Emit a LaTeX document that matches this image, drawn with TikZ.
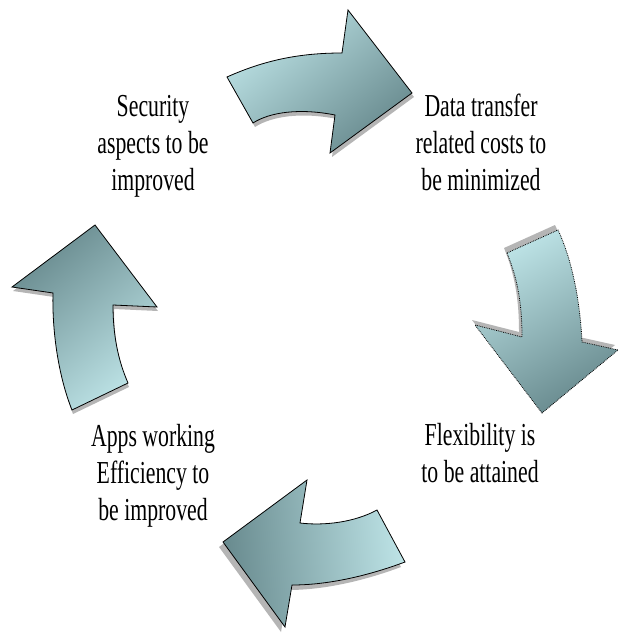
\documentclass[tikz,border=0pt]{standalone}
\usepackage{fontspec}
\usepackage{tikz}
\newfontfamily\cyclefont[FakeStretch=0.68]{Liberation Serif}
\definecolor{arrowlight}{RGB}{190,228,231}
\definecolor{arrowdark}{RGB}{104,138,142}
\definecolor{arrowshadow}{RGB}{120,120,120}
% outlines of the four bent block arrows
\newcommand{\toparrowpath}{(227,77) .. controls (265,60) and (300,53) .. (342,53)
  -- (348,10) -- (412,93) -- (330,153) -- (335,115)
  .. controls (300,108) and (270,112) .. (253,123) -- cycle}
\newcommand{\rightarrowpath}{(507,253) -- (558,230)
  .. controls (572,260) and (580,300) .. (582,342)
  -- (618,350) -- (542,413) -- (475,325) -- (522,337)
  .. controls (522,305) and (518,280) .. (507,253) -- cycle}
\newcommand{\bottomarrowpath}{(377,510) -- (405,562)
  .. controls (370,575) and (330,585) .. (292,585)
  -- (285,627) -- (223,542) -- (307,480) -- (300,523)
  .. controls (325,526) and (355,522) .. (377,510) -- cycle}
\newcommand{\leftarrowpath}{(72,410) -- (128,383)
  .. controls (118,360) and (113,335) .. (113,305)
  -- (157,307) -- (95,225) -- (12,287) -- (53,293)
  .. controls (52,330) and (58,375) .. (72,410) -- cycle}

\begin{document}
\begin{tikzpicture}[x=1pt,y=-1pt,
    main node/.style={align=center,inner sep=0pt,anchor=north,
      font=\cyclefont\fontsize{32}{37}\selectfont},
    arrow shadow/.style={fill=arrowshadow,opacity=0.55},
    arrow body/.style={draw=black,line width=0.8pt,line join=miter}]
    \useasboundingbox (0,0) rectangle (621,644);

    \fill[arrow shadow,shift={(2,4)}] \toparrowpath;
    \fill[arrow shadow,shift={(-3,-5)}] \rightarrowpath;
    \fill[arrow shadow,shift={(-4,5)}] \bottomarrowpath;
    \fill[arrow shadow,shift={(1,4)}] \leftarrowpath;

    \shade[arrow body,top color=arrowlight,bottom color=arrowdark,shading angle=40] \toparrowpath;
    \shade[arrow body,densely dotted,top color=arrowlight,bottom color=arrowdark,shading angle=30] \rightarrowpath;
    \shade[arrow body,top color=arrowlight,bottom color=arrowdark,shading angle=-85] \bottomarrowpath;
    \shade[arrow body,top color=arrowdark,bottom color=arrowlight,shading angle=40] \leftarrowpath;

    \node[main node] (secu) at (153,95) {Security\\aspects to be\\improved};
    \node[main node] (data) at (481,94) {Data transfer\\related costs to\\be minimized};
    \node[main node] (flex) at (480,423) {Flexibility is\\to be attained};
    \node[main node] (apps) at (153,424) {Apps working\\Efficiency to\\be improved};
  \end{tikzpicture}
\end{document}
